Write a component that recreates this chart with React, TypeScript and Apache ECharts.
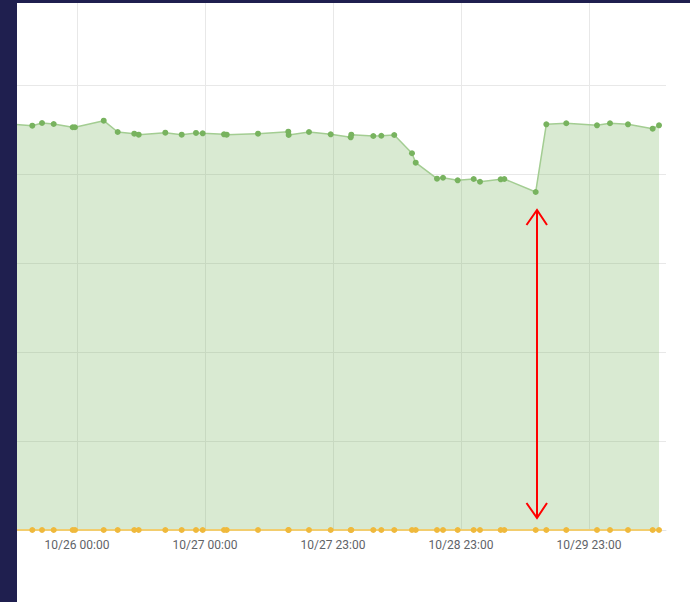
import React, { useEffect, useRef } from "react";
import * as echarts from "echarts";

// x values are hours since 10/26 00:00 (local time; the 10/27 DST shift explains "23:00" labels)
const hours = [
  -12.5, -8.38, -6.56, -4.37, -0.81, -0.38, 5.01, 7.63, 10.74, 11.57, 16.56, 19.63, 22.31,
  23.57, 27.56, 28.07, 33.94, 39.62, 39.69, 43.5, 47.57, 51.32, 51.43, 55.56, 57.06, 59.49,
  62.81, 63.51, 67.5, 68.63, 71.38, 74.38, 75.56, 79.44, 80.12, 86.01, 88.0, 91.74, 97.5,
  99.94, 103.31, 107.94, 109.13,
];
const totalValues = [
  456, 454.3, 457.3, 456.2, 452.5, 452.5, 459.9, 447.2, 445.3, 444.2, 446.4, 444.2, 446.1,
  445.7, 444.6, 444.2, 445.3, 447.5, 443.8, 447.2, 444.6, 441.2, 444.2, 442.7, 443.0, 443.8,
  423.3, 412.7, 394.7, 395.8, 392.9, 394.4, 391.3, 394.0, 394.4, 379.8, 455.8, 457.0, 454.7,
  457.0, 455.8, 450.9, 454.7,
];
const lowerValues = hours.map(() => 0);
const tickHours = [0, 24, 48, 72, 96];
const tickLabels = ["10/26 00:00", "10/27 00:00", "10/27 23:00", "10/28 23:00", "10/29 23:00"];

export default function App() {
  const ref = useRef<HTMLDivElement>(null);
  useEffect(() => {
    if (!ref.current) return;
    const chart = echarts.init(ref.current, undefined, { renderer: "svg" });
    const green = hours.map((h, i) => [h, totalValues[i]]);
    const yellow = hours.map((h, i) => [h, lowerValues[i]]);
    chart.setOption({
      animation: false,
      grid: { left: 17, right: 24, top: 0, bottom: 72, containLabel: false },
      xAxis: {
        type: "value",
        min: -11.25,
        max: 110.44,
        axisLine: { show: true, lineStyle: { color: "#e4e4e4" } },
        axisTick: { show: false, customValues: tickHours },
        splitLine: { show: true, lineStyle: { color: "#e8e8e8" } },
        axisLabel: {
          color: "#5f6368",
          fontSize: 12,
          fontFamily: "Roboto",
          margin: 9,
          customValues: tickHours,
          formatter: (v: number) => {
            const i = tickHours.indexOf(Math.round(v));
            return i >= 0 ? tickLabels[i] : "";
          },
        },
      },
      yAxis: {
        type: "value",
        min: 0,
        max: 595.5,
        interval: 100,
        axisLabel: { show: false },
        axisLine: { show: false },
        axisTick: { show: false },
        splitLine: { show: true, lineStyle: { color: "#e8e8e8" } },
      },
      series: [
        {
          type: "line",
          data: green,
          symbol: "circle",
          symbolSize: 6,
          showSymbol: true,
          clip: true,
          itemStyle: { color: "#78b35f" },
          lineStyle: { color: "#a3cd92", width: 1.5 },
          areaStyle: { color: "#78b35f", opacity: 0.28 },
          z: 2,
        },
        {
          type: "line",
          data: yellow,
          symbol: "circle",
          symbolSize: 6,
          showSymbol: true,
          clip: true,
          itemStyle: { color: "#efb93c" },
          lineStyle: { color: "#f2cd6e", width: 2 },
          z: 3,
        },
      ],
      graphic: [
        { type: "line", shape: { x1: 537, y1: 211, x2: 537, y2: 517 }, style: { stroke: "#ff0000", lineWidth: 2 }, z: 100 },
        { type: "polyline", shape: { points: [[526.5, 225], [537, 210], [547, 225]] }, style: { stroke: "#ff0000", lineWidth: 2, fill: null }, z: 100 },
        { type: "polyline", shape: { points: [[526.5, 503], [537, 518], [547, 503]] }, style: { stroke: "#ff0000", lineWidth: 2, fill: null }, z: 100 },
      ],
    });
    return () => chart.dispose();
  }, []);
  return (
    <div style={{ position: "fixed", left: 0, top: 0, width: 690, height: 602, background: "#ffffff", overflow: "hidden" }}>
      <div ref={ref} style={{ position: "absolute", left: 0, top: 0, width: 690, height: 602 }} />
      <div style={{ position: "absolute", left: 0, top: 0, width: 17, height: 602, background: "#1f1f4f" }} />
      <div style={{ position: "absolute", left: 0, top: 0, width: 690, height: 3, background: "#1f1f4f" }} />
    </div>
  );
}
